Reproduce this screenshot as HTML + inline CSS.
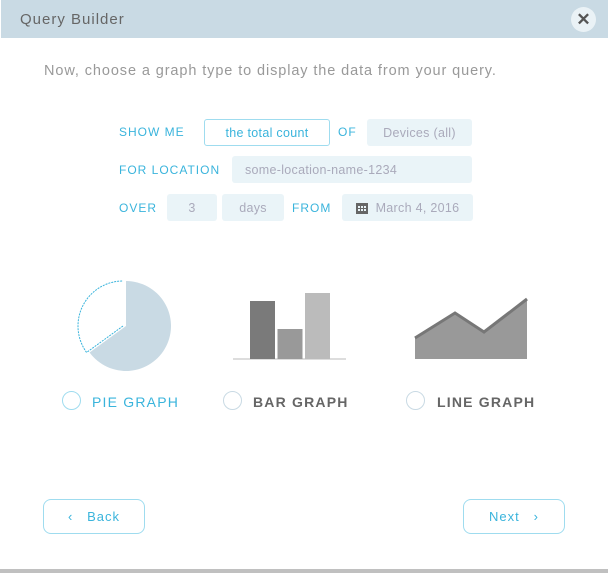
<!DOCTYPE html>
<html><head><meta charset="utf-8"><style>
*{margin:0;padding:0;box-sizing:border-box}
body{width:608px;height:573px;background:#fff;font-family:"Liberation Sans",sans-serif;position:relative;overflow:hidden}
.a{position:absolute}
.hdr{left:1px;top:0;width:607px;height:38px;background:#c9dae4}
.lbl{color:#3ab4dc;font-size:12px;letter-spacing:1px}
.box{background:#eaf4f8;border-radius:3px;color:#aab;font-size:12.5px;display:flex;align-items:center;justify-content:center;letter-spacing:.3px}
.rad{width:19px;height:19px;border:1.5px solid #c9dae4;border-radius:50%}
.rl{font-size:14px;letter-spacing:1.2px;color:#666;font-weight:bold}
.btn{border:1px solid #9fdcef;border-radius:8px;color:#3ab4dc;font-size:13px;display:flex;align-items:center;justify-content:center;letter-spacing:1px}
</style></head><body>
<div class="a hdr"></div>
<div class="a" style="left:20px;top:11px;font-size:15px;color:#666;letter-spacing:1px">Query Builder</div>
<div class="a" style="left:571px;top:7px;width:25px;height:25px;border-radius:50%;background:#eaf2f6;color:#555;font-size:17px;font-weight:bold;text-align:center;line-height:25px">✕</div>
<div class="a" style="left:44px;top:63px;font-size:14.5px;color:#999;letter-spacing:.9px">Now, choose a graph type to display the data from your query.</div>

<div class="a lbl" style="left:119px;top:125px">SHOW ME</div>
<div class="a box" style="left:204px;top:119px;width:126px;height:27px;background:#fff;border:1px solid #9fdcef;color:#3ab4dc">the total count</div>
<div class="a lbl" style="left:338px;top:125px">OF</div>
<div class="a box" style="left:367px;top:119px;width:105px;height:27px">Devices (all)</div>

<div class="a lbl" style="left:119px;top:163px">FOR LOCATION</div>
<div class="a box" style="left:232px;top:156px;width:240px;height:27px;justify-content:flex-start;padding-left:13px">some-location-name-1234</div>

<div class="a lbl" style="left:119px;top:201px">OVER</div>
<div class="a box" style="left:167px;top:194px;width:50px;height:27px">3</div>
<div class="a box" style="left:222px;top:194px;width:62px;height:27px">days</div>
<div class="a lbl" style="left:292px;top:201px">FROM</div>
<div class="a box" style="left:342px;top:194px;width:131px;height:27px"><svg width="12" height="12" style="margin-right:8px"><rect x="0" y="1" width="12" height="11" fill="#666"/><g fill="#eaf4f8"><rect x="2" y="4" width="2" height="2"/><rect x="5" y="4" width="2" height="2"/><rect x="8" y="4" width="2" height="2"/><rect x="2" y="7" width="2" height="2"/><rect x="5" y="7" width="2" height="2"/><rect x="8" y="7" width="2" height="2"/></g></svg>March 4, 2016</div>

<svg class="a" id="g" style="left:0;top:260px" width="608" height="120"></svg>

<div class="a rad" style="left:62px;top:391px;border-color:#9fdcef"></div>
<div class="a rl" style="left:92px;top:394px;color:#3ab4dc;font-weight:normal">PIE GRAPH</div>
<div class="a rad" style="left:223px;top:391px"></div>
<div class="a rl" style="left:253px;top:394px">BAR GRAPH</div>
<div class="a rad" style="left:406px;top:391px"></div>
<div class="a rl" style="left:437px;top:394px">LINE GRAPH</div>

<div class="a btn" style="left:43px;top:499px;width:102px;height:35px">‹&nbsp;&nbsp;&nbsp;Back</div>
<div class="a btn" style="left:463px;top:499px;width:102px;height:35px">Next&nbsp;&nbsp;&nbsp;›</div>
<div class="a" style="left:0;top:569px;width:608px;height:4px;background:#c0c0c0"></div>

<script>
const pieShare=[0.65];
const barValues=[58,30,66];
const barColors=["#7a7a7a","#999","#bbb"];
const lineValues=[21,46,27,60];
const NS="http://www.w3.org/2000/svg";
const g=document.getElementById('g');
function mk(t,a){const e=document.createElementNS(NS,t);for(const k in a)e.setAttribute(k,a[k]);g.appendChild(e);return e;}
// pie
const cx=126,cy=66,r=45,ang=pieShare[0]*2*Math.PI;
const ex=cx+r*Math.sin(ang),ey=cy-r*Math.cos(ang);
let p=mk('path',{d:`M${cx},${cy} L${cx},${cy-r} A${r},${r} 0 ${ang>Math.PI?1:0} 1 ${ex},${ey} Z`,fill:'#c9dae4'});

const o=-3;
p=mk('path',{d:`M${cx+o},${cy} L${ex+o},${ey} A${r},${r} 0 ${ang>Math.PI?0:1} 1 ${cx+o},${cy-r}`,fill:'none',stroke:'#3ab4dc','stroke-width':1,'stroke-dasharray':'2 1'});

// bars
const base=99,bx0=250,bw=25,bgap=2.5,scale=1;
let l=mk('rect',{x:233,y:base-1,width:113,height:2,fill:'#ddd'});

barValues.forEach((v,i)=>{const e=mk('rect',{x:bx0+i*(bw+bgap),y:base-v*scale,width:bw,height:v*scale,fill:barColors[i]});
});
// line
const lx0=415,lx=[0,40,69,112];
const pts=lineValues.map((v,i)=>[lx0+lx[i],base-v]);
p=mk('path',{d:'M'+pts.map(q=>q.join(',')).join(' L')+` L${pts[3][0]},${base} L${lx0},${base} Z`,fill:'#999'});

p=mk('polyline',{points:pts.map(q=>q.join(',')).join(' '),fill:'none',stroke:'#777','stroke-width':3});

</script>
</body></html>
